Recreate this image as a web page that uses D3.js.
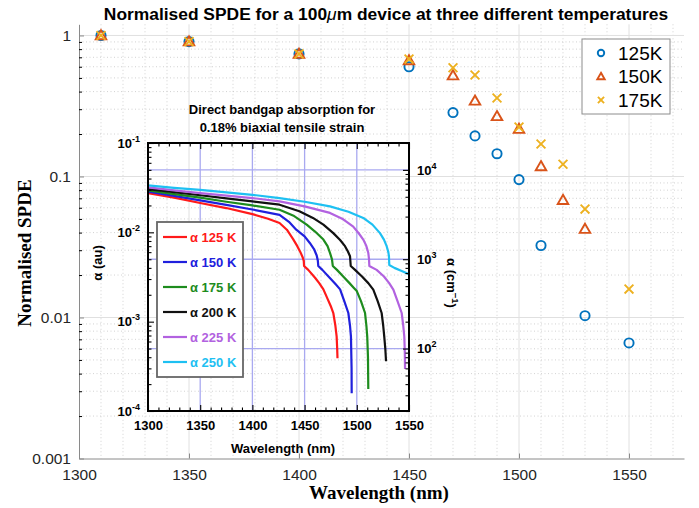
<!DOCTYPE html>
<html><head><meta charset="utf-8">
<script src="https://cdnjs.cloudflare.com/ajax/libs/d3/7.8.5/d3.min.js"></script>
<style>body{margin:0;background:#fff;} svg{display:block;}</style>
</head><body>
<script>
// ---------- main chart data ----------
const wavelengths = [1310,1350,1400,1450,1470,1480,1490,1500,1510,1520,1530,1550];
const spde125 = [1.0,0.905,0.74,0.60,0.284,0.194,0.145,0.095,0.0324,null,0.0103,0.0066];
const spde150 = [1.0,0.905,0.74,0.665,0.52,0.344,0.267,0.217,0.118,0.068,0.0424,null];
const spde175 = [1.0,0.905,0.74,0.68,0.59,0.524,0.36,0.224,0.17,0.122,0.0587,0.0159];
const seriesLabels = ["125K","150K","175K"];
const seriesColors = ["#0072BD","#D95319","#EDB120"];
const xTicks = [1300,1350,1400,1450,1500,1550];
const yTicks = [0.001,0.01,0.1,1];
const yTickLabels = ["0.001","0.01","0.1","1"];

// ---------- inset data (absorption curves, au) ----------
const abs125 = [[1300,0.0275],[1325,0.0245],[1350,0.0213],[1375,0.0187],[1400,0.0160],[1415,0.0142],[1426,0.0127],[1433,0.0107],[1439,0.0084],[1443,0.0070],[1446,0.0060],[1448,0.0053],[1449.2,0.0048],[1449.5,0.0042],[1453.5,0.0038],[1460,0.0031],[1464,0.0027],[1468,0.0023],[1472,0.0018],[1475,0.0015],[1477.5,0.00125],[1479.5,0.0009],[1480.7,0.00068],[1481.2,0.0005],[1481.5,0.00039]];
const abs150 = [[1300,0.0285],[1325,0.0256],[1350,0.0228],[1375,0.0203],[1400,0.0180],[1426,0.0157],[1435,0.0131],[1442,0.0107],[1450,0.0090],[1455,0.0076],[1459,0.0065],[1461.6,0.0055],[1462.7,0.0048],[1463.1,0.0042],[1467,0.0038],[1474,0.0031],[1480,0.0026],[1484,0.0023],[1488,0.0017],[1491.9,0.00125],[1493.5,0.0009],[1494.4,0.00068],[1495,0.0003],[1495.1,0.000158]];
const abs175 = [[1300,0.0295],[1325,0.0268],[1350,0.0245],[1375,0.0220],[1400,0.0200],[1426,0.0179],[1440,0.0152],[1452,0.0122],[1460,0.0102],[1468,0.0083],[1472,0.0070],[1474.3,0.0059],[1476.2,0.0050],[1477,0.0042],[1481,0.0038],[1487,0.0032],[1493,0.0027],[1497,0.0024],[1500,0.0022],[1504,0.0017],[1507.9,0.00125],[1509.2,0.0009],[1510,0.00068],[1510.7,0.0004],[1511,0.000176]];
const abs200 = [[1300,0.0305],[1325,0.0282],[1350,0.026],[1375,0.024],[1400,0.0222],[1426,0.0204],[1445,0.0172],[1458,0.0145],[1468,0.0122],[1477.5,0.0098],[1484,0.0082],[1488.7,0.0070],[1491.5,0.0061],[1493.5,0.0054],[1494.2,0.0042],[1498.3,0.0038],[1505,0.0032],[1511,0.0027],[1515.8,0.00228],[1520,0.0017],[1523.8,0.00125],[1525.3,0.0009],[1526.3,0.00068],[1527.3,0.0005],[1528,0.00036]];
const abs225 = [[1300,0.0318],[1325,0.0295],[1350,0.0275],[1375,0.0258],[1400,0.0242],[1426,0.0222],[1450,0.0195],[1474.3,0.0165],[1487,0.0140],[1496.6,0.0116],[1502,0.0097],[1506.2,0.0083],[1509,0.0071],[1511,0.0059],[1511.7,0.0050],[1512,0.0042],[1519,0.0038],[1526,0.0032],[1531,0.0027],[1535,0.00228],[1539,0.0017],[1543,0.00125],[1544.5,0.0009],[1545.5,0.00068],[1546,0.00045],[1546.2,0.000295]];
const abs250 = [[1300,0.0335],[1325,0.0315],[1350,0.0298],[1375,0.028],[1400,0.0263],[1426,0.0242],[1450,0.0220],[1474.3,0.0195],[1492,0.0170],[1506.2,0.0145],[1515,0.0122],[1522.2,0.0098],[1526,0.0083],[1528.6,0.0070],[1530.2,0.0060],[1530.8,0.0054],[1531.1,0.0043],[1536,0.0040],[1543,0.0037],[1550,0.0034]];
const insetLabels = ["α 125 K","α 150 K","α 175 K","α 200 K","α 225 K","α 250 K"];
const insetColors = ["#ff1a1a","#2020dd","#1e8c1e","#111111","#b262e0","#1ec0f2"];
const insetXTicks = [1300,1350,1400,1450,1500,1550];
const insetLeftTicks = [1e-4,1e-3,1e-2,1e-1];
const insetLeftExp = ["-4","-3","-2","-1"];
const insetRightTicks = [100,1000,10000];
const insetRightExp = ["2","3","4"];
const insetTitle = ["Direct bandgap absorption for","0.18% biaxial tensile strain"];

const W=699,H=508;
const svg=d3.select("body").append("svg").attr("width",W).attr("height",H)
  .style("font-family","'Liberation Sans', Arial, Helvetica, sans-serif");

// ---------- main scales ----------
const x=d3.scaleLinear().domain([1300,1575]).range([79,684]);
const y=d3.scaleLog().domain([0.001,1.2]).range([458.5,24.3]);
const [yB,yT]=y.range();

// grid
const grid=svg.append("g");
const xMinor=d3.range(1310,1575,10).filter(v=>v%50!==0);
const yMinor=[]; yTicks.forEach(d=>{for(let k=2;k<10;k++){const v=d*k; if(v<=1.2) yMinor.push(v);}});
grid.selectAll(".xm").data(xMinor).join("line")
  .attr("x1",d=>x(d)).attr("x2",d=>x(d)).attr("y1",yT).attr("y2",yB)
  .attr("stroke","#c6c6c6").attr("stroke-width",0.8).attr("stroke-dasharray","1,2.5");
grid.selectAll(".ym").data(yMinor).join("line")
  .attr("x1",x(1300)).attr("x2",x(1575)).attr("y1",d=>y(d)).attr("y2",d=>y(d))
  .attr("stroke","#c6c6c6").attr("stroke-width",0.8).attr("stroke-dasharray","1,2.5");
grid.selectAll(".xM").data(xTicks.filter(v=>v>1300)).join("line")
  .attr("x1",d=>x(d)).attr("x2",d=>x(d)).attr("y1",yT).attr("y2",yB)
  .attr("stroke","#e0e0e0").attr("stroke-width",1);
grid.selectAll(".yM").data(yTicks.filter(v=>v>0.001)).join("line")
  .attr("x1",x(1300)).attr("x2",x(1575)).attr("y1",d=>y(d)).attr("y2",d=>y(d))
  .attr("stroke","#e0e0e0").attr("stroke-width",1);

// ---------- inset ----------
const ix=d3.scaleLinear().domain([1300,1550]).range([148,409]);
const iy=d3.scaleLog().domain([1e-4,1e-1]).range([411,143]);
const iyR=d3.scaleLog().domain([20,20000]).range([411,143]);
const ins=svg.append("g").style("font-weight","bold");

// inset blue grid
const gridCol="#a9a9f0";
ins.selectAll(".ig").data(insetXTicks.filter(v=>v>1300&&v<1550)).join("line")
  .attr("x1",d=>ix(d)).attr("x2",d=>ix(d)).attr("y1",143).attr("y2",411)
  .attr("stroke",gridCol).attr("stroke-width",1.3);
ins.selectAll(".igh").data(insetRightTicks).join("line")
  .attr("x1",148).attr("x2",409).attr("y1",d=>iyR(d)).attr("y2",d=>iyR(d))
  .attr("stroke",gridCol).attr("stroke-width",1.3);

// curves
const curves=[abs125,abs150,abs175,abs200,abs225,abs250];
const line=d3.line().x(d=>ix(d[0])).y(d=>iy(d[1]));
ins.append("clipPath").attr("id","iclip").append("rect").attr("x",148).attr("y",143).attr("width",261).attr("height",268);
ins.append("g").attr("clip-path","url(#iclip)").selectAll("path").data(curves).join("path")
  .attr("d",line).attr("fill","none").attr("stroke",(d,i)=>insetColors[i]).attr("stroke-width",2.2)
  .attr("stroke-linejoin","round");

// inset ticks
function logMinors(dom){const out=[];let d=Math.pow(10,Math.floor(Math.log10(dom[0])));for(;d<dom[1];d*=10){for(let k=1;k<10;k++){const v=d*k;if(v>=dom[0]&&v<=dom[1])out.push(v);}}return out;}
const leftMin=logMinors([1e-4,1e-1]).filter(v=>!insetLeftTicks.some(t=>Math.abs(t-v)/t<1e-6));
const rightMin=logMinors([20,20000]).filter(v=>!insetRightTicks.some(t=>Math.abs(t-v)/t<1e-6));
const xMinI=d3.range(1310,1550,10).filter(v=>v%50!==0);
function supLabels(sel,exps){
  sel.selectAll("text").each(function(d,i){
    const t=d3.select(this); t.text("");
    t.append("tspan").text("10");
    t.append("tspan").attr("dy",-6).attr("font-size","9px").text(exps[i]);
  });
}
const axL=ins.append("g").attr("transform","translate(148,0)")
  .call(d3.axisLeft(iy).tickValues(insetLeftTicks).tickSizeInner(-6).tickSizeOuter(0).tickPadding(8));
supLabels(axL,insetLeftExp);
ins.append("g").attr("transform","translate(148,0)")
  .call(d3.axisLeft(iy).tickValues(leftMin).tickFormat("").tickSizeInner(-3.5).tickSizeOuter(0));
const axR=ins.append("g").attr("transform","translate(409,0)")
  .call(d3.axisRight(iyR).tickValues(insetRightTicks).tickSizeInner(-6).tickSizeOuter(0).tickPadding(8));
supLabels(axR,insetRightExp);
ins.append("g").attr("transform","translate(409,0)")
  .call(d3.axisRight(iyR).tickValues(rightMin).tickFormat("").tickSizeInner(-3.5).tickSizeOuter(0));
ins.append("g").attr("transform","translate(0,411)")
  .call(d3.axisBottom(ix).tickValues(insetXTicks).tickFormat(d3.format("d")).tickSizeInner(-6).tickSizeOuter(0).tickPadding(10));
ins.append("g").attr("transform","translate(0,411)")
  .call(d3.axisBottom(ix).tickValues(xMinI).tickFormat("").tickSizeInner(-3.5).tickSizeOuter(0));
ins.append("g").attr("transform","translate(0,143)")
  .call(d3.axisTop(ix).tickValues(insetXTicks).tickFormat("").tickSizeInner(-6).tickSizeOuter(0));
ins.append("g").attr("transform","translate(0,143)")
  .call(d3.axisTop(ix).tickValues(xMinI).tickFormat("").tickSizeInner(-3.5).tickSizeOuter(0));
ins.selectAll(".domain").remove();
ins.selectAll(".tick line").attr("stroke","#000").attr("stroke-width",1.1);
ins.selectAll(".tick text").attr("fill","#000").style("font-size","13px").style("font-weight","bold")
  .style("font-family","'Liberation Sans', Arial, sans-serif");
ins.append("rect").attr("x",148).attr("y",143).attr("width",261).attr("height",268)
  .attr("fill","none").attr("stroke","#000").attr("stroke-width",2);

// inset titles
ins.selectAll(".ititle").data(insetTitle).join("text")
  .attr("x",282).attr("y",(d,i)=>114+i*18).attr("text-anchor","middle")
  .style("font-size","13px").attr("fill","#000").text(d=>d);
ins.append("text").attr("transform","translate(102,263) rotate(-90)").attr("text-anchor","middle")
  .style("font-size","13px").text("α (au)");
const rl=ins.append("text").attr("transform","translate(447,283) rotate(90)").attr("text-anchor","middle")
  .style("font-size","13px");
rl.append("tspan").text("α (cm");
rl.append("tspan").attr("dy",-5).attr("font-size","9.5px").text("−1");
rl.append("tspan").attr("dy",5).text(")");
ins.append("text").attr("x",283).attr("y",453).attr("text-anchor","middle")
  .style("font-size","13px").text("Wavelength (nm)");

// inset legend
ins.append("rect").attr("x",157).attr("y",222).attr("width",86).attr("height",155)
  .attr("fill","#fff").attr("stroke","#666").attr("stroke-width",1.8);
const il=ins.selectAll(".il").data(insetLabels).join("g")
  .attr("transform",(d,i)=>`translate(0,${237+i*25})`);
il.append("line").attr("x1",163).attr("x2",187).attr("stroke",(d,i)=>insetColors[i]).attr("stroke-width",2.2);
il.append("text").attr("x",190).attr("dy","0.35em").style("font-size","13px")
  .attr("fill",(d,i)=>insetColors[i]).text(d=>d);

// ---------- main axes ----------
const axY=svg.append("g").attr("transform",`translate(${x(1300)},0)`)
  .call(d3.axisLeft(y).tickValues(yTicks).tickFormat((d,i)=>yTickLabels[i]).tickSizeInner(-5).tickSizeOuter(0).tickPadding(8));
svg.append("g").attr("transform",`translate(${x(1300)},0)`)
  .call(d3.axisLeft(y).tickValues(yMinor).tickFormat("").tickSizeInner(-3).tickSizeOuter(0))
  .select(".domain").remove();
const axX=svg.append("g").attr("transform",`translate(0,${yB})`)
  .call(d3.axisBottom(x).tickValues(xTicks).tickFormat(d3.format("d")).tickSizeInner(-5).tickSizeOuter(0).tickPadding(10));
svg.selectAll(".domain").attr("stroke","#8a8a8a");
[axY,axX].forEach(a=>{a.selectAll(".tick line").attr("stroke","#8a8a8a");
  a.selectAll(".tick text").attr("fill","#262626").style("font-size","15.5px")
   .style("font-family","'Liberation Sans', Arial, sans-serif");});

// ---------- markers ----------
const series=[spde125,spde150,spde175];
const pts=series.map((s,si)=>wavelengths.map((w,i)=>({w,v:s[i],si})).filter(p=>p.v!=null));
const mk=svg.append("g");
function drawMarker(g,si,cx,cy,scale){
  const c=seriesColors[si];
  if(si===0){
    g.append("circle").attr("cx",cx).attr("cy",cy).attr("r",4.6*scale).attr("fill","none").attr("stroke",c).attr("stroke-width",1.9);
  } else if(si===1){
    g.append("path").attr("transform",`translate(${cx},${cy+0.8*scale})`)
      .attr("d",d3.symbol().type(d3.symbolTriangle).size(48*scale*scale)()).attr("fill","none").attr("stroke",c).attr("stroke-width",1.9);
  } else {
    const r=4.4*scale;
    g.append("path").attr("d",`M${cx-r},${cy-r}L${cx+r},${cy+r}M${cx-r},${cy+r}L${cx+r},${cy-r}`)
      .attr("stroke",c).attr("stroke-width",1.9).attr("fill","none");
  }
}
pts.forEach((arr,si)=>arr.forEach(p=>drawMarker(mk,si,x(p.w),y(p.v),1)));

// ---------- legend ----------
svg.append("rect").attr("x",582).attr("y",39).attr("width",88).attr("height",75)
  .attr("fill","#fff").attr("stroke","#8c8c8c").attr("stroke-width",1);
seriesLabels.forEach((lab,i)=>{
  const cy=53+i*23.5;
  drawMarker(svg,i,601,cy,0.7);
  svg.append("text").attr("x",618).attr("y",cy).attr("dy","0.35em").style("font-size","19px")
    .attr("fill","#000").text(lab);
});

// ---------- titles ----------
const tt=svg.append("text").attr("x",386).attr("y",20).attr("text-anchor","middle")
  .style("font-size","17.4px").style("font-weight","bold").attr("fill","#000");
tt.append("tspan").text("Normalised SPDE for a 100");
tt.append("tspan").style("font-style","italic").style("font-weight","normal").text("μ");
tt.append("tspan").text("m device at three different temperatures");
svg.append("text").attr("transform","translate(31,253) rotate(-90)").attr("text-anchor","middle")
  .style("font-family","'Liberation Serif', 'Times New Roman', serif").style("font-weight","bold")
  .style("font-size","19px").attr("fill","#000").text("Normalised SPDE");
svg.append("text").attr("x",379).attr("y",499).attr("text-anchor","middle")
  .style("font-family","'Liberation Serif', 'Times New Roman', serif").style("font-weight","bold")
  .style("font-size","19px").attr("fill","#000").text("Wavelength (nm)");
</script>
</body></html>
